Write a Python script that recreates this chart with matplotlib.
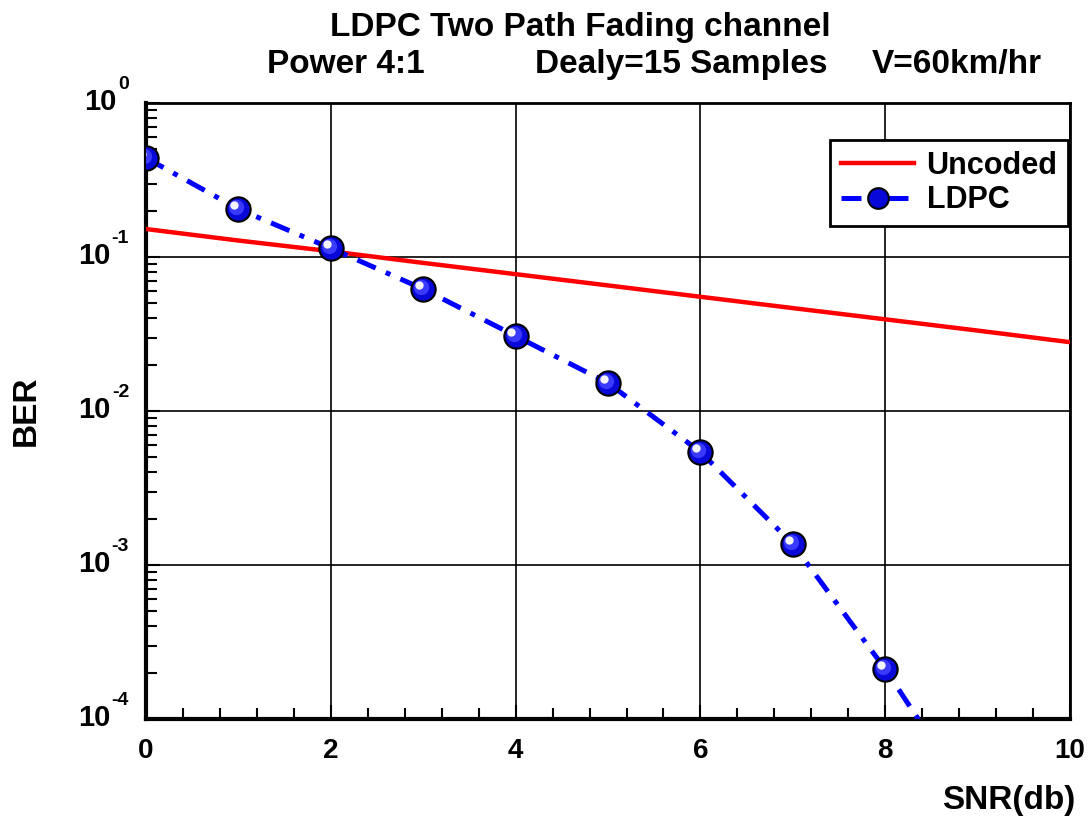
import math
import matplotlib.pyplot as plt
import matplotlib.transforms as mtransforms
from matplotlib.ticker import FixedLocator, NullFormatter, LogLocator

plt.rcParams['font.family'] = ['Liberation Sans', 'DejaVu Sans']
plt.rcParams['font.weight'] = 'bold'

# datos
snr = [0, 1, 2, 3, 4, 5, 6, 7, 8, 9, 10]
ber_uncoded = [0.152, 0.128, 0.109, 0.0916, 0.0774, 0.0654, 0.0552, 0.0466, 0.0394, 0.0333, 0.028]
snr_ldpc = [0, 1, 2, 3, 4, 5, 6, 7, 8, 9]
ber_ldpc = [0.44, 0.205, 0.114, 0.062, 0.0307, 0.0152, 0.00542, 0.00137, 2.11e-4, 2.6e-5]
xticks = [0, 2, 4, 6, 8, 10]
yticks = [1e-4, 1e-3, 1e-2, 1e-1, 1e0]

fig = plt.figure(figsize=(10.92, 8.21), dpi=100)
ax = fig.add_axes([0.1337, 0.1242, 0.8462, 0.7503])

ax.plot(snr, ber_uncoded, color='red', lw=3.2, label='Uncoded', zorder=3)

# linea LDPC (sin marcador en el ultimo punto, que sale del grafico)
ax.plot(snr_ldpc, ber_ldpc, color='blue', lw=3.6, linestyle=(0, (4, 2.2, 1, 2.2)),
        marker='o', markersize=17.5, markerfacecolor='#0808d8', markeredgecolor='black',
        markeredgewidth=1.5, markevery=list(range(9)), label='LDPC', zorder=4)

# esfera: zona clara y brillo
mid = mtransforms.offset_copy(ax.transData, fig=fig, x=-1.5, y=1.5, units='points')
ax.plot(snr_ldpc[:9], ber_ldpc[:9], linestyle='none', marker='o', markersize=11,
        markerfacecolor='#3a3aff', markeredgecolor='none', transform=mid, zorder=5)
shine = mtransforms.offset_copy(ax.transData, fig=fig, x=-3, y=3, units='points')
ax.plot(snr_ldpc[:9], ber_ldpc[:9], linestyle='none', marker='o', markersize=6,
        markerfacecolor='#f4f4ff', markeredgecolor='none', transform=shine, zorder=6)

ax.set_yscale('log')
ax.set_xlim(0, 10)
ax.set_ylim(1e-4, 1)

ax.xaxis.set_major_locator(FixedLocator(xticks))
ax.xaxis.set_minor_locator(FixedLocator([x / 10 for x in range(0, 101, 4) if x % 20 != 0]))
ax.yaxis.set_major_locator(FixedLocator(yticks))
ax.yaxis.set_minor_locator(LogLocator(base=10, subs=range(2, 10)))
ax.yaxis.set_major_formatter(NullFormatter())
ax.yaxis.set_minor_formatter(NullFormatter())

ax.tick_params(axis='both', which='both', direction='in', top=False, right=False)
ax.tick_params(axis='both', which='major', length=10, width=1.5)
ax.tick_params(axis='both', which='minor', length=8, width=1.5)
ax.tick_params(axis='x', which='major', pad=14, labelsize=20)

# etiquetas del eje y: "10" con exponente arriba
ytr = ax.get_yaxis_transform()
for v in yticks:
    exp_tr = mtransforms.offset_copy(ytr, fig=fig, x=-17, y=14, units='dots')
    e = ax.text(0, v, '%d' % round(math.log10(v)), transform=exp_tr, ha='right',
                va='baseline', fontsize=14, fontweight='bold', clip_on=False)
    ax.annotate('10', xy=(0, 0), xycoords=e, xytext=(-1, -12), textcoords='offset points',
                ha='right', va='baseline', fontsize=21, fontweight='bold',
                annotation_clip=False)

ax.grid(True, which='major', color='black', lw=1.2)
ax.set_axisbelow(True)

ax.spines['left'].set_linewidth(3)
ax.spines['bottom'].set_linewidth(3)
ax.spines['top'].set_linewidth(2)
ax.spines['right'].set_linewidth(2)

fig.text(0.024, 0.5, 'BER', rotation=90, ha='center', va='center',
         fontsize=24, fontweight='bold')
fig.text(0.985, 0.025, 'SNR(db)', ha='right', va='center',
         fontsize=24, fontweight='bold')

fig.text(0.531, 0.967, 'LDPC Two Path Fading channel', ha='center', va='center',
         fontsize=24, fontweight='bold')
fig.text(0.2445, 0.921, 'Power 4:1', ha='left', va='center', fontsize=24, fontweight='bold')
fig.text(0.49, 0.921, 'Dealy=15 Samples', ha='left', va='center', fontsize=24, fontweight='bold')
fig.text(0.7985, 0.921, 'V=60km/hr', ha='left', va='center', fontsize=24, fontweight='bold')

leg = ax.legend(loc='upper right', bbox_to_anchor=(0.998, 0.94), borderaxespad=0,
                fontsize=22, fancybox=False, framealpha=1, edgecolor='black',
                handlelength=2.4, borderpad=0.35, labelspacing=0.15, handletextpad=0.4,
                markerscale=0.85)
leg.get_frame().set_linewidth(2)

fig.savefig('out.png', dpi=100)
